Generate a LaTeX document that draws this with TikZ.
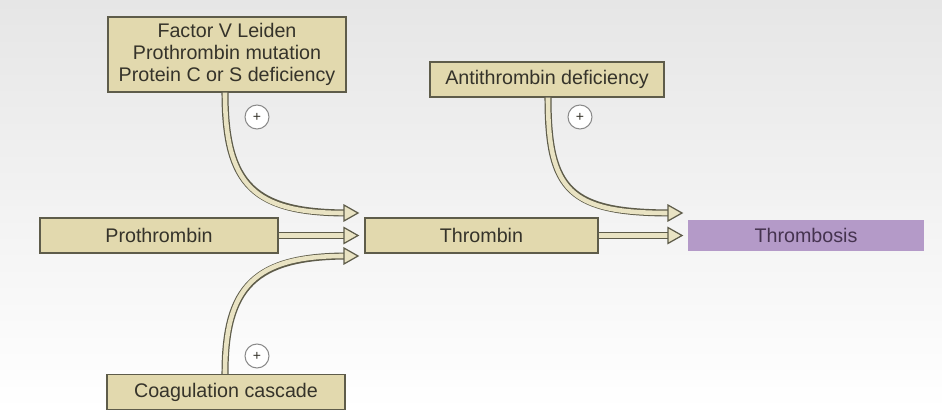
\documentclass[tikz,border=0pt]{standalone}
\usepackage{fontspec}
\setmainfont{Liberation Sans}
\usetikzlibrary{arrows.meta}
\definecolor{Ink}{HTML}{35332A}
\definecolor{Edge}{HTML}{5E5C4A}
\definecolor{Beige}{HTML}{E2D9AE}
\definecolor{Pale}{HTML}{E9E3C3}
\definecolor{Lilac}{HTML}{B49AC8}
\definecolor{Plum}{HTML}{45334F}
\definecolor{Ring}{HTML}{8A8A8A}
\definecolor{Shade}{HTML}{E6E6E6}
\newcommand\boxfont{\fontsize{11.2}{12.4}\selectfont}
\tikzset{
  stage/.style={draw=Edge,line width=.8pt,fill=Beige,minimum width=4.76cm,minimum height=.7cm,inner sep=1pt,font=\boxfont,text=Ink,align=center},
  outcome/.style={stage,draw=Lilac,fill=Lilac,text=Plum,minimum width=4.68cm,minimum height=.58cm},
  flow/.style={draw=Pale,line width=2.6pt,
    -{Triangle[length=9pt,width=10pt,color=Edge,fill=Pale,line width=.7pt]},
    preaction={draw=Edge,line width=4pt,arrows=-,shorten >=6pt}},
  plus/.style={circle,draw=Ring,line width=.6pt,fill=white,minimum size=.48cm,inner sep=0pt,font=\footnotesize,text=Ink}
}
\begin{document}
\begin{tikzpicture}
  \useasboundingbox (0,0) rectangle (18.84,8.22);
  \fill[top color=Shade,bottom color=white] (0,0) rectangle (18.84,8.22);
  % boxes
  \node[stage,minimum height=1.5cm] (fvl) at (4.54,7.13) {Factor V Leiden\\Prothrombin mutation\\Protein C or S deficiency};
  \node[stage,minimum width=4.68cm] (atd) at (10.94,6.63) {Antithrombin deficiency};
  \node[stage] (pt) at (3.18,3.51) {Prothrombin};
  \node[stage,minimum width=4.66cm] (th) at (9.63,3.51) {Thrombin};
  \node[outcome] (tb) at (16.12,3.51) {Thrombosis};
  \node[stage] (cc) at (4.52,0.38) {Coagulation cascade};
  % arrows
  \draw[flow] ([xshift=-.04cm]fvl.south) .. controls +(0,-1.86) and +(-2.1,0) .. ([shift={(-.1,.45)}]th.west);
  \draw[flow] ([xshift=-.02cm]cc.north) .. controls +(0,1.74) and +(-2.1,0) .. ([shift={(-.1,-.41)}]th.west);
  \draw[flow] (pt.east) -- ([xshift=-.1cm]th.west);
  \draw[flow] ([xshift=.02cm]atd.south) .. controls +(0,-1.86) and +(-2.28,0) .. ([shift={(-.1,.45)}]tb.west);
  \draw[flow] (th.east) -- ([xshift=-.1cm]tb.west);
  % plus signs
  \node[plus] (p1) at (5.14,5.88) {+};
  \node[plus] (p2) at (11.6,5.88) {+};
  \node[plus] (p3) at (5.14,1.1) {+};
\end{tikzpicture}
\end{document}
